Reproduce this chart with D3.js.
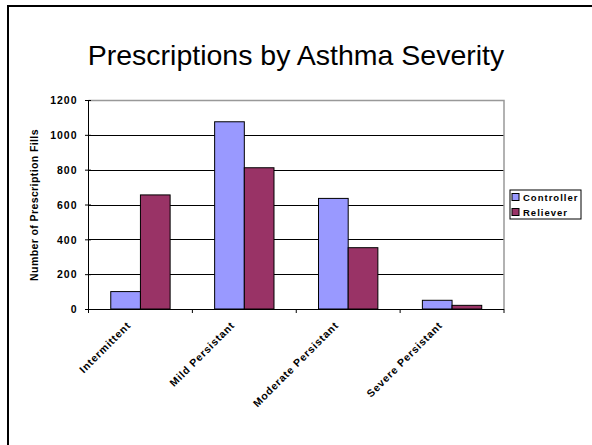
<!DOCTYPE html>
<html>
<head>
<meta charset="utf-8">
<script src="https://cdn.jsdelivr.net/npm/d3@7"></script>
<style>
  html, body { margin: 0; padding: 0; background: #fff; }
  svg { display: block; }
  text { font-family: Arial, "Liberation Sans", Helvetica, sans-serif; }
</style>
</head>
<body>
<script>
// Prescription fills per asthma severity group
const categories = ["Intermittent", "Mild Persistant", "Moderate Persistant", "Severe Persistant"];
const seriesNames = ["Controller", "Reliever"];
const controller = [100, 1075, 635, 50];
const reliever = [655, 811, 352, 21];
const yTicks = [0, 200, 400, 600, 800, 1000, 1200];
const colors = ["#9999FF", "#993366"];

const W = 592, H = 445;
const margin = { left: 88.5, right: 88, top: 100, bottom: 136 };

const svg = d3.select("body").append("svg")
  .attr("width", W).attr("height", H);

// slide frame
svg.append("line").attr("x1", 7).attr("x2", W).attr("y1", 6).attr("y2", 6)
  .attr("stroke", "#000").attr("stroke-width", 2);
svg.append("line").attr("x1", 8).attr("x2", 8).attr("y1", 5).attr("y2", H)
  .attr("stroke", "#000").attr("stroke-width", 2);

// title
svg.append("text")
  .attr("x", 296).attr("y", 65)
  .attr("text-anchor", "middle")
  .style("font-size", "28.5px")
  .text("Prescriptions by Asthma Severity");

const x0 = margin.left, x1 = W - margin.right;
const yTop = margin.top, yBot = H - margin.bottom;

const x = d3.scaleBand().domain(categories).range([x0, x1]).paddingInner(0).paddingOuter(0);
const xs = d3.scaleBand().domain(seriesNames).range([0, x.bandwidth()]).paddingInner(0).paddingOuter(0.75);
const y = d3.scaleLinear().domain([0, 1200]).range([yBot, yTop]);

// gridlines
svg.append("g").selectAll("line").data(yTicks.filter(v => v > 0 && v < 1200)).join("line")
  .attr("x1", x0).attr("x2", x1)
  .attr("y1", d => Math.round(y(d)) + 0.5).attr("y2", d => Math.round(y(d)) + 0.5)
  .attr("stroke", "#000").attr("stroke-width", 1);

// plot area border (top and right)
svg.append("path")
  .attr("d", `M${x0},${yTop + 0.5}H${x1}V${yBot}`)
  .attr("fill", "none").attr("stroke", "#999").attr("stroke-width", 1.5);

// bars
const rows = categories.map((c, i) => ({ cat: c, vals: [controller[i], reliever[i]] }));
const grp = svg.append("g").selectAll("g").data(rows).join("g")
  .attr("transform", d => `translate(${x(d.cat)},0)`);
grp.selectAll("rect").data(d => d.vals.map((v, j) => ({ v, s: seriesNames[j], j }))).join("rect")
  .attr("x", d => xs(d.s))
  .attr("width", xs.bandwidth())
  .attr("y", d => y(d.v))
  .attr("height", d => y(0) - y(d.v))
  .attr("fill", d => colors[d.j])
  .attr("stroke", "#000").attr("stroke-width", 1);

// y axis
const yAxis = d3.axisLeft(y).tickValues(yTicks).tickSize(0).tickPadding(0);
const gy = svg.append("g").attr("transform", `translate(${x0},0)`).call(yAxis);
gy.select(".domain").remove();
gy.selectAll(".tick text").remove();
gy.selectAll(".tick").append("line")
  .attr("x1", -3.5).attr("x2", 2.5).attr("stroke", "#000");
gy.selectAll(".tick").append("text")
  .attr("x", -11).attr("dy", "0.36em")
  .attr("text-anchor", "end")
  .attr("fill", "#000")
  .style("font-size", "10.5px").style("font-weight", "bold").style("letter-spacing", "1px")
  .style("font-family", "Arial, 'Liberation Sans', sans-serif")
  .text(d => d);
svg.append("line").attr("x1", x0).attr("x2", x0).attr("y1", yTop).attr("y2", yBot)
  .attr("stroke", "#000");

// x axis
svg.append("line").attr("x1", x0).attr("x2", x1).attr("y1", yBot + 0.5).attr("y2", yBot + 0.5)
  .attr("stroke", "#000");
const bounds = categories.map(c => x(c)).concat([x1]);
svg.append("g").selectAll("line").data(bounds).join("line")
  .attr("x1", d => d).attr("x2", d => d)
  .attr("y1", yBot).attr("y2", yBot + 4)
  .attr("stroke", "#000");
svg.append("g").selectAll("text").data(categories).join("text")
  .attr("transform", d => `translate(${x(d) + x.bandwidth() / 2 - 9},${yBot + 17}) rotate(-45)`)
  .attr("text-anchor", "end")
  .style("font-size", "10.5px").style("font-weight", "bold").style("letter-spacing", "0.8px")
  .text(d => d);

// y axis title
svg.append("text")
  .attr("transform", `translate(38,205) rotate(-90)`)
  .attr("text-anchor", "middle")
  .style("font-size", "10.5px").style("font-weight", "bold").style("letter-spacing", "0.4px")
  .text("Number of Prescription Fills");

// legend
const lg = svg.append("g").attr("transform", "translate(510,190)");
lg.append("rect").attr("x", 0).attr("y", 0).attr("width", 71).attr("height", 29)
  .attr("fill", "#fff").attr("stroke", "#000").attr("stroke-width", 1);
const li = lg.selectAll("g").data(seriesNames).join("g")
  .attr("transform", (d, i) => `translate(2,${3.5 + i * 15})`);
li.append("rect").attr("width", 7).attr("height", 7)
  .attr("fill", (d, i) => colors[i]).attr("stroke", "#000").attr("stroke-width", 1);
li.append("text").attr("x", 11).attr("y", 7.5)
  .style("font-size", "9.5px").style("font-weight", "bold").style("letter-spacing", "1px")
  .text(d => d);
</script>
</body>
</html>
